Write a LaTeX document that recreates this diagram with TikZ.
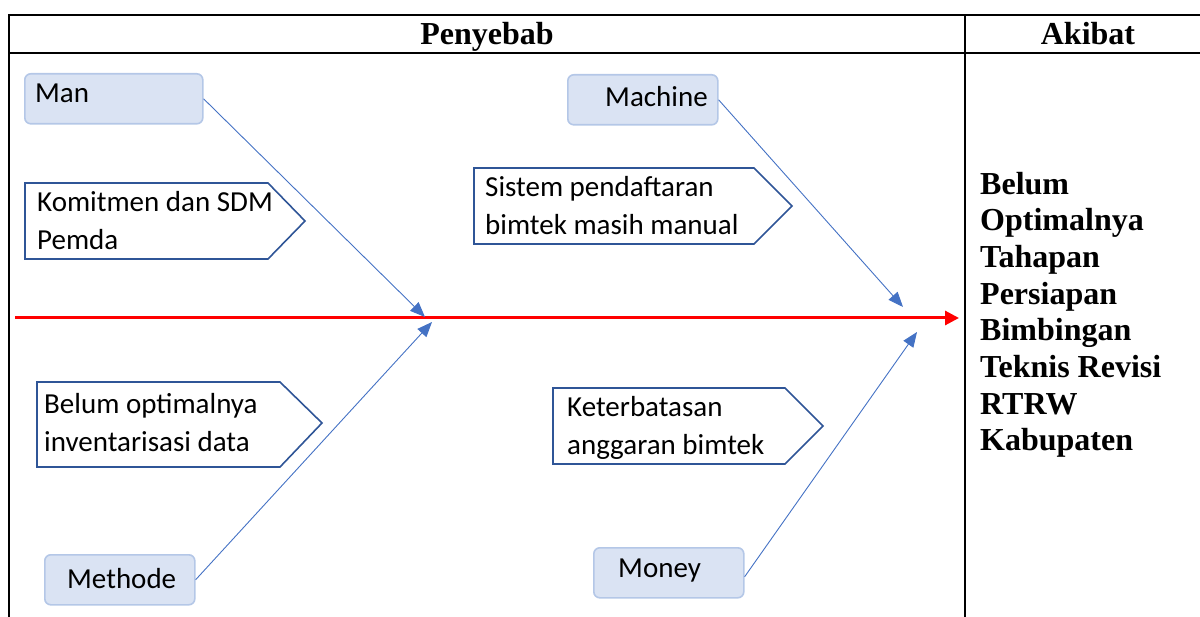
\documentclass[tikz,border=0pt]{standalone}
\usepackage{fontspec}
\setmainfont{Liberation Serif}
\newfontfamily\calfont{Carlito}
\usetikzlibrary{arrows.meta}
\definecolor{boxfill}{HTML}{DAE3F3}
\definecolor{boxline}{HTML}{B4C7E7}
\definecolor{pentline}{HTML}{2F5597}
\definecolor{arrowblue}{HTML}{4472C4}
\begin{document}
\begin{tikzpicture}[x=1pt,y=-1pt,
  tableline/.style={line width=2pt, black},
  causebox/.style={draw=boxline, fill=boxfill, line width=1.6pt, rounded corners=6pt,
     minimum width=#1, minimum height=50pt, inner sep=0pt, anchor=north west},
  pent/.style={draw=pentline, line width=1.6pt, line join=miter},
  lbl/.style={font=\calfont\fontsize{29}{38}\selectfont, inner sep=0pt, anchor=base west, align=left},
  head/.style={font=\bfseries\fontsize{32}{36.7}\selectfont, inner sep=0pt},
  bone/.style={arrowblue, line width=0.9pt, -{Triangle[length=15pt,width=12pt]}},
  spine/.style={red, line width=3pt, -{Triangle[length=14pt,width=14pt]}}
]
\useasboundingbox (0,0) rectangle (1200,617);
% table
\draw[tableline] (9,617) -- (9,15) -- (1200,15);
\draw[tableline] (9,53) -- (1200,53);
\draw[tableline] (965,15) -- (965,617);
\node[head, anchor=base] (hcause) at (487,45) {Penyebab};
\node[head, anchor=base] (heffect) at (1088,45) {Akibat};
\node[head, anchor=base west, align=left] (effect) at (980,451)
  {Belum\\Optimalnya\\Tahapan\\Persiapan\\Bimbingan\\Teknis Revisi\\RTRW\\Kabupaten};
% spine
\coordinate (tail) at (15,318);
\coordinate (head) at (959,318);
\draw[spine] (tail) -- (head);
\coordinate (j1) at (425,317);
\coordinate (j2) at (432,322);
\coordinate (j3) at (903,307);
\coordinate (j4) at (917,332);
% category boxes
\node[causebox=178pt] (man) at (24,73) {};
\node[lbl] (manT) at (35,103) {Man};
\node[causebox=150pt] (machine) at (567,74) {};
\node[lbl] (machineT) at (605,107) {Machine};
\node[causebox=150pt] (methode) at (44,554) {};
\node[lbl] (methodeT) at (67,588) {Methode};
\node[causebox=150pt] (money) at (593,547) {};
\node[lbl] (moneyT) at (618,577) {Money};
% pentagons
\draw[pent] (25,183) -- (268,183) -- (305,221) -- (268,259) -- (25,259) -- cycle;
\node[lbl] (c1) at (37,250) {Komitmen dan SDM\\Pemda};
\draw[pent] (37,382) -- (280,382) -- (322,423) -- (280,467) -- (37,467) -- cycle;
\node[lbl] (c2) at (44,452) {Belum optimalnya\\inventarisasi data};
\draw[pent] (474,168) -- (754,168) -- (792,206) -- (754,244) -- (474,244) -- cycle;
\node[lbl] (c3) at (485,235) {Sistem pendaftaran\\bimtek masih manual};
\draw[pent] (553,388) -- (785,388) -- (823,426) -- (785,464) -- (553,464) -- cycle;
\node[lbl] (c4) at (567,455) {Keterbatasan\\anggaran bimtek};
% bones
\draw[bone] (man.east) -- (j1);
\draw[bone] (methode.east) -- (j2);
\draw[bone] (machine.east) -- (j3);
\draw[bone] ([yshift=-4pt]money.east) -- (j4);
\end{tikzpicture}
\end{document}
